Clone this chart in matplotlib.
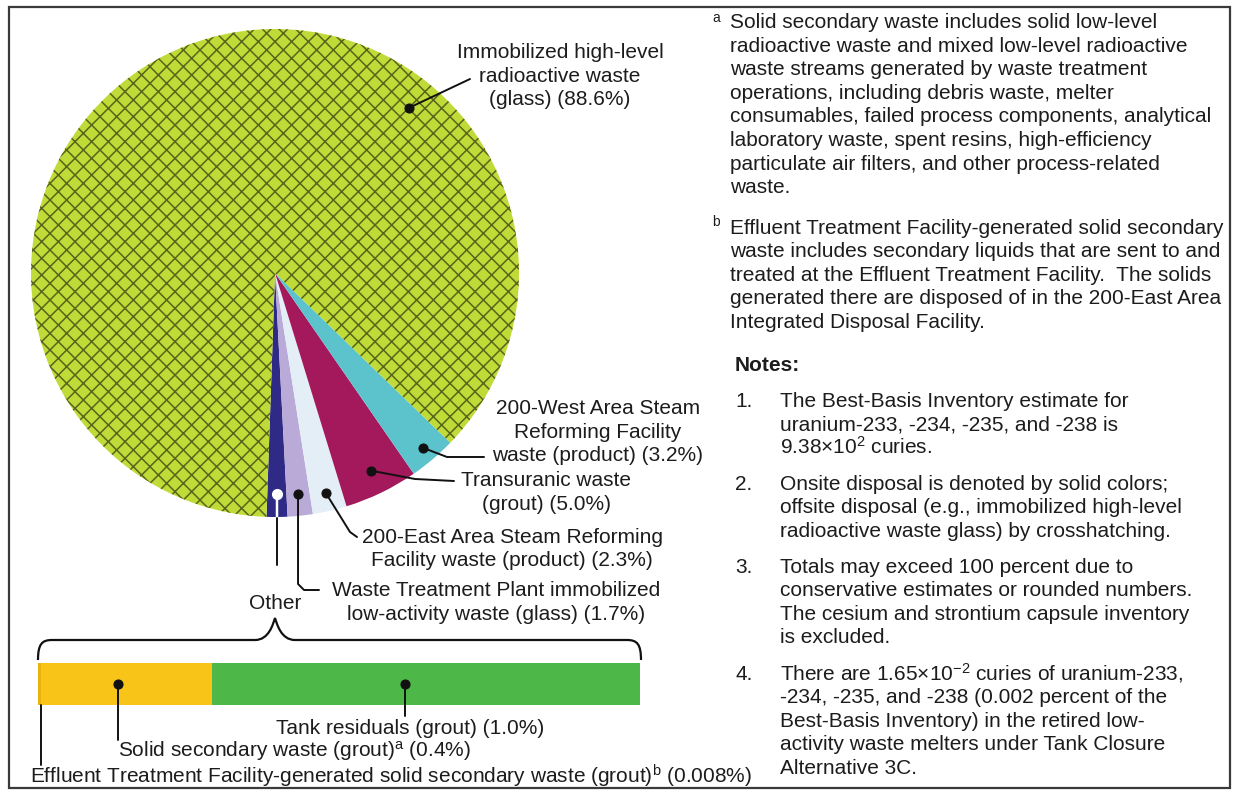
import numpy as np
import matplotlib
matplotlib.use('Agg')
import matplotlib.pyplot as plt
from matplotlib.path import Path
from matplotlib.patches import PathPatch, Rectangle

plt.rcParams['font.family'] = ['Liberation Sans', 'DejaVu Sans']
plt.rcParams['mathtext.fontset'] = 'custom'
plt.rcParams['mathtext.rm'] = 'Liberation Sans'
plt.rcParams['mathtext.it'] = 'Liberation Sans:italic'
plt.rcParams['mathtext.bf'] = 'Liberation Sans:bold'
plt.rcParams['hatch.linewidth'] = 1.1

# ---------------- data ----------------
other_names = ['Effluent Treatment Facility-generated solid secondary waste (grout)$^{\\mathrm{b}}$',
               'Solid secondary waste (grout)$^{\\mathrm{a}}$',
               'Tank residuals (grout)']
other_values = [0.008, 0.4, 1.0]

pie_names = ['Other',
             'Waste Treatment Plant immobilized\nlow-activity waste (glass)',
             '200-East Area Steam Reforming\nFacility waste (product)',
             'Transuranic waste\n(grout)',
             '200-West Area Steam\nReforming Facility\nwaste (product)',
             'Immobilized high-level\nradioactive waste\n(glass)']
pie_values = [sum(other_values), 1.7, 2.3, 5.0, 3.2, 88.6]

note_a = ["Solid secondary waste includes solid low-level",
          "radioactive waste and mixed low-level radioactive",
          "waste streams generated by waste treatment",
          "operations, including debris waste, melter",
          "consumables, failed process components, analytical",
          "laboratory waste, spent resins, high-efficiency",
          "particulate air filters, and other process-related",
          "waste."]
note_b = ["Effluent Treatment Facility-generated solid secondary",
          "waste includes secondary liquids that are sent to and",
          "treated at the Effluent Treatment Facility.  The solids",
          "generated there are disposed of in the 200-East Area",
          "Integrated Disposal Facility."]
notes = [["The Best-Basis Inventory estimate for",
          "uranium-233, -234, -235, and -238 is",
          "9.38\u00d710$^{2}$ curies."],
         ["Onsite disposal is denoted by solid colors;",
          "offsite disposal (e.g., immobilized high-level",
          "radioactive waste glass) by crosshatching."],
         ["Totals may exceed 100 percent due to",
          "conservative estimates or rounded numbers.",
          "The cesium and strontium capsule inventory",
          "is excluded."],
         ["There are 1.65\u00d710$^{-2}$ curies of uranium-233,",
          "-234, -235, and -238 (0.002 percent of the",
          "Best-Basis Inventory) in the retired low-",
          "activity waste melters under Tank Closure",
          "Alternative 3C."]]

# ---------------- style ----------------
pie_colors = ['#2E2A86', '#B9AAD8', '#E4EEF6', '#A3195B', '#5CC3CD', '#C0DA38']
hatch_color = '#56661C'
bar_colors = ['#E9B20C', '#F7C417', '#4DB848']
TXT = '#1c1c1c'
FS = 15

def pct(v):
    return ('%.1f' % v) if v >= 0.1 else ('%.3f' % v)

W, H = 1235, 794
fig = plt.figure(figsize=(W / 100, H / 100), dpi=100)
fig.patch.set_facecolor('white')

# pie axes (pixel layout)
cx, cy, R = 275, 273, 244
pax = fig.add_axes([(cx - R) / W, (H - cy - R) / H, 2 * R / W, 2 * R / H])
wedges, _ = pax.pie(pie_values, colors=pie_colors, startangle=-92, counterclock=True,
                    wedgeprops=dict(linewidth=0))
wedges[-1].set_hatch('xx')
wedges[-1].set_edgecolor(hatch_color)
wedges[-1].set_linewidth(0)
pax.set_xlim(-1, 1)
pax.set_ylim(-1, 1)
pax.axis('off')

# bar axes (pixel layout)
bx0, bx1, by0, by1 = 38, 640, 663, 705
bax = fig.add_axes([bx0 / W, (H - by1) / H, (bx1 - bx0) / W, (by1 - by0) / H])
lefts = np.concatenate([[0], np.cumsum(other_values)[:-1]])
bax.barh([0] * len(other_values), other_values, left=lefts, height=1.0,
         color=bar_colors, linewidth=0)
bax.set_xlim(0, sum(other_values))
bax.set_ylim(-0.5, 0.5)
bax.axis('off')

# overlay axes in pixel coords
ax = fig.add_axes([0, 0, 1, 1])
ax.set_xlim(0, W)
ax.set_ylim(H, 0)
ax.axis('off')
ax.set_zorder(5)

fig.canvas.draw()

def to_px(a, pt):
    return ax.transData.inverted().transform(a.transData.transform(pt))

def wedge_pt(w, frac, ang=None):
    th = np.deg2rad((w.theta1 + w.theta2) / 2 if ang is None else ang)
    return to_px(pax, (frac * np.cos(th), frac * np.sin(th)))

LW = 1.4
def leader(pts, color='#111111', dot=True, dotcolor='#111111'):
    pts = np.array(pts)
    ax.plot(pts[:, 0], pts[:, 1], color=color, lw=LW, solid_capstyle='round',
            solid_joinstyle='round')
    if dot:
        ax.plot(pts[0, 0], pts[0, 1], 'o', ms=6.5, color=dotcolor, mec='#111111', mew=0.8)

def label(x, ys, lines, ha='center'):
    for y, t in zip(ys, lines):
        ax.text(x, y, t, ha=ha, va='baseline', fontsize=FS, color=TXT)

# ---- pie labels ----
lab = [n.split('\n') for n in pie_names]
for i in range(1, len(lab)):
    lab[i][-1] = lab[i][-1] + ' (%s%%)' % pct(pie_values[i])

# Immobilized HLW
d = wedge_pt(wedges[5], 0.87, ang=51)
leader([d, (470, 79)])
label(560, [58, 81.5, 105], lab[5])

# 200-West
d = wedge_pt(wedges[4], 0.94)
leader([d, (447, 457), (484, 457)])
label(598, [414, 437.5, 461], lab[4])

# Transuranic
d = wedge_pt(wedges[3], 0.90)
leader([d, (415, 479), (454, 481)])
label(546, [486, 510], lab[3])

# 200-East
d = wedge_pt(wedges[2], 0.925)
leader([d, (350, 532), (357, 537)])
label(512, [543, 566.5], lab[2])

# WTP ILAW
d = wedge_pt(wedges[1], 0.91)
leader([d, (d[0], 584), (d[0] + 6, 590), (319, 590)])
label(496, [596, 620], lab[1])

# Other
d = wedge_pt(wedges[0], 0.905)
edge = wedge_pt(wedges[0], 1.0)
leader([d, (d[0], 565)], dot=False)
ax.plot([d[0], d[0]], [d[1], edge[1] - 1], color='white', lw=LW + 0.4)
ax.plot(d[0], d[1], 'o', ms=7, color='white', mec='white')
ax.text(cx, 609, lab[0][0], ha='center', va='baseline', fontsize=FS, color=TXT)

# brace
bx_l, bx_r, yb, ytip, ypk = bx0, bx1 + 1, 640, 660, 618
verts = [(bx_l, ytip), (bx_l, yb + 4), (bx_l + 4, yb), (bx_l + 14, yb),
         (cx - 20, yb), (cx - 6, yb), (cx - 2, ypk + 6), (cx, ypk),
         (cx + 2, ypk + 6), (cx + 6, yb), (cx + 20, yb),
         (bx_r - 14, yb), (bx_r - 4, yb), (bx_r, yb + 4), (bx_r, ytip)]
codes = [Path.MOVETO, Path.CURVE4, Path.CURVE4, Path.CURVE4,
         Path.LINETO, Path.CURVE4, Path.CURVE4, Path.CURVE4,
         Path.CURVE4, Path.CURVE4, Path.CURVE4,
         Path.LINETO, Path.CURVE4, Path.CURVE4, Path.CURVE4]
ax.add_patch(PathPatch(Path(verts, codes), fc='none', ec='#111111', lw=1.6))

# ---- bar labels ----
bar_ymid = to_px(bax, (0, 0))[1]
# ETF
xe = to_px(bax, (lefts[0] + other_values[0] / 2, 0))[0]
leader([(xe + 1.5, by1), (xe + 1.5, 765)], dot=False)
ax.text(30, 783, other_names[0] + ' (%s%%)' % pct(other_values[0]),
        ha='left', va='baseline', fontsize=FS, color=TXT)
# Solid secondary waste
xs = to_px(bax, (lefts[1] + other_values[1] * 0.45, 0))[0]
leader([(xs, bar_ymid), (xs, 740)])
ax.text(118, 757, other_names[1] + ' (%s%%)' % pct(other_values[1]),
        ha='left', va='baseline', fontsize=FS, color=TXT)
# Tank residuals
xt = to_px(bax, (lefts[2] + other_values[2] * 0.45, 0))[0]
leader([(xt, bar_ymid), (xt, 716)])
ax.text(410, 734, other_names[2] + ' (%s%%)' % pct(other_values[2]),
        ha='center', va='baseline', fontsize=FS, color=TXT)

# ---- right-hand notes ----
ax.text(712, 22, 'a', ha='left', va='baseline', fontsize=10, color=TXT)
for k, t in enumerate(note_a):
    ax.text(730, 28 + k * 23.6, t, ha='left', va='baseline', fontsize=FS, color=TXT)
ax.text(712, 226, 'b', ha='left', va='baseline', fontsize=10, color=TXT)
for k, t in enumerate(note_b):
    ax.text(730, 234 + k * 23.4, t, ha='left', va='baseline', fontsize=FS, color=TXT)
ax.text(735, 371, 'Notes:', ha='left', va='baseline', fontsize=FS, color=TXT,
        fontweight='bold')
note_y0 = [407, 490, 573, 680]
for n, (y0, lines) in enumerate(zip(note_y0, notes)):
    ax.text(735, y0, '%d.' % (n + 1), ha='left', va='baseline', fontsize=FS, color=TXT)
    for k, t in enumerate(lines):
        ax.text(780, y0 + k * 23.4, t, ha='left', va='baseline', fontsize=FS, color=TXT)

# border
ax.add_patch(Rectangle((9, 7), 1221, 781, fc='none', ec='#3a3a3a', lw=1.6))

fig.savefig('out.png', dpi=100)
